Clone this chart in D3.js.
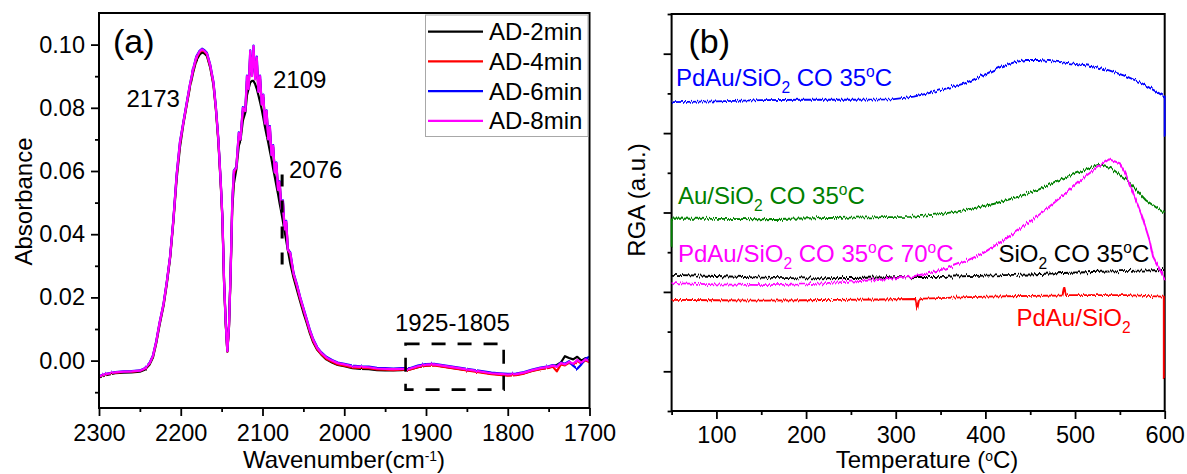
<!DOCTYPE html>
<html>
<head>
<meta charset="utf-8">
<script src="https://cdn.jsdelivr.net/npm/d3@7"></script>
<style>
  body { margin: 0; background: #fff; }
  svg { display: block; }
  text { font-family: "Liberation Sans", Arial, sans-serif; fill: #000; }
</style>
</head>
<body>
<svg id="chart" width="1187" height="474"></svg>
<script>
// ---------- (a) DRIFTS spectra of adsorbed CO ----------
const wavenumber = [
  2300,2290,2280,2270,2260,2250,2244,2238,2234,2230,
  2226,2221,2217,2213,2209,2205,2201,2197,2193,2189,
  2185,2181,2177,2174,2171,2168,2164,2160,2157,2154,
  2151,2149,2147,2145,2143,2141,2139,2137,2135,2132,
  2129,2127,2124,2121,2119,2117,2115,2113,2111,2109,
  2107,2105,2103,2101,2099,2097,2095,2093,2091,2089,
  2087,2085,2083,2081,2079,2077,2075,2073,2071,2069,
  2066,2062,2058,2054,2050,2046,2042,2038,2033,2028,
  2022,2015,2008,2000,1990,1980,1970,1960,1950,1940,
  1930,1920,1910,1900,1890,1880,1870,1860,1850,1840,
  1830,1820,1810,1800,1790,1780,1770,1760,1750,1745,
  1740,1735,1730,1725,1720,1715,1710,1705,1700
];
const ad2min = [
  -0.0053,-0.0045,-0.0040,-0.0038,-0.0037,-0.0035,-0.0029,-0.0012,0.0010,0.0055,
  0.0112,0.0174,0.0244,0.0324,0.0440,0.0575,0.0675,0.0745,0.0805,0.0862,
  0.0910,0.0950,0.0968,0.0975,0.0972,0.0964,0.0928,0.0872,0.0793,0.0693,
  0.0553,0.0443,0.0245,0.0116,0.0028,0.0105,0.0272,0.0480,0.0560,0.0605,
  0.0680,0.0695,0.0760,0.0785,0.0840,0.0860,0.0880,0.0885,0.0885,0.0875,
  0.0860,0.0840,0.0818,0.0795,0.0768,0.0740,0.0715,0.0690,0.0663,0.0638,
  0.0608,0.0582,0.0554,0.0527,0.0497,0.0470,0.0440,0.0410,0.0380,0.0350,
  0.0307,0.0262,0.0225,0.0188,0.0152,0.0120,0.0086,0.0058,0.0034,0.0019,
  0.0004,-0.0006,-0.0014,-0.0018,-0.0024,-0.0026,-0.0027,-0.0030,-0.0031,-0.0031,
  -0.0030,-0.0028,-0.0021,-0.0016,-0.0014,-0.0018,-0.0022,-0.0026,-0.0030,-0.0033,
  -0.0037,-0.0041,-0.0044,-0.0046,-0.0045,-0.0040,-0.0032,-0.0026,-0.0022,-0.0018,
  -0.0014,-0.0006,0.0014,0.0008,0.0004,0.0012,0.0000,0.0008,-0.0002
];
const ad4min = [
  -0.0051,-0.0043,-0.0038,-0.0036,-0.0035,-0.0033,-0.0026,-0.0009,0.0014,0.0058,
  0.0116,0.0178,0.0248,0.0328,0.0445,0.0585,0.0685,0.0750,0.0808,0.0866,
  0.0916,0.0957,0.0975,0.0982,0.0978,0.0969,0.0932,0.0877,0.0797,0.0697,
  0.0557,0.0447,0.0248,0.0118,0.0029,0.0108,0.0277,0.0497,0.0590,0.0615,
  0.0710,0.0702,0.0790,0.0792,0.0885,0.0862,0.0965,0.0905,0.0980,0.0895,
  0.0945,0.0855,0.0890,0.0815,0.0832,0.0755,0.0783,0.0705,0.0732,0.0655,
  0.0675,0.0600,0.0618,0.0545,0.0560,0.0485,0.0500,0.0420,0.0435,0.0355,
  0.0335,0.0272,0.0236,0.0196,0.0161,0.0126,0.0091,0.0062,0.0036,0.0020,
  0.0006,-0.0004,-0.0012,-0.0016,-0.0022,-0.0023,-0.0024,-0.0028,-0.0029,-0.0030,
  -0.0029,-0.0029,-0.0021,-0.0016,-0.0015,-0.0019,-0.0023,-0.0027,-0.0031,-0.0035,
  -0.0039,-0.0043,-0.0045,-0.0048,-0.0046,-0.0041,-0.0033,-0.0027,-0.0023,-0.0019,
  -0.0034,-0.0012,-0.0015,-0.0007,-0.0013,-0.0001,-0.0009,0.0001,-0.0005
];
const ad6min = [
  -0.0049,-0.0041,-0.0036,-0.0034,-0.0033,-0.0031,-0.0024,-0.0007,0.0016,0.0061,
  0.0119,0.0181,0.0251,0.0331,0.0448,0.0590,0.0692,0.0752,0.0812,0.0871,
  0.0921,0.0962,0.0980,0.0987,0.0982,0.0974,0.0937,0.0882,0.0802,0.0702,
  0.0562,0.0452,0.0252,0.0122,0.0031,0.0112,0.0282,0.0502,0.0602,0.0612,
  0.0722,0.0702,0.0802,0.0792,0.0902,0.0862,0.0982,0.0902,0.0997,0.0892,
  0.0962,0.0852,0.0902,0.0812,0.0842,0.0752,0.0792,0.0702,0.0742,0.0652,
  0.0682,0.0597,0.0627,0.0542,0.0567,0.0482,0.0507,0.0417,0.0442,0.0352,
  0.0342,0.0277,0.0242,0.0202,0.0167,0.0132,0.0097,0.0068,0.0042,0.0026,
  0.0012,0.0002,-0.0006,-0.0010,-0.0016,-0.0018,-0.0019,-0.0023,-0.0024,-0.0025,
  -0.0024,-0.0024,-0.0016,-0.0011,-0.0010,-0.0014,-0.0018,-0.0022,-0.0026,-0.0030,
  -0.0034,-0.0038,-0.0040,-0.0042,-0.0041,-0.0036,-0.0028,-0.0022,-0.0018,-0.0014,
  -0.0018,-0.0006,-0.0010,-0.0002,-0.0016,-0.0026,-0.0012,0.0006,0.0012
];
const ad8min = [
  -0.0050,-0.0042,-0.0037,-0.0035,-0.0034,-0.0032,-0.0025,-0.0008,0.0015,0.0060,
  0.0118,0.0180,0.0250,0.0330,0.0445,0.0588,0.0690,0.0750,0.0810,0.0870,
  0.0920,0.0960,0.0978,0.0985,0.0980,0.0972,0.0935,0.0880,0.0800,0.0700,
  0.0560,0.0450,0.0250,0.0120,0.0030,0.0110,0.0280,0.0500,0.0600,0.0610,
  0.0720,0.0700,0.0800,0.0790,0.0900,0.0860,0.0980,0.0900,0.0995,0.0890,
  0.0960,0.0850,0.0900,0.0810,0.0840,0.0750,0.0790,0.0700,0.0740,0.0650,
  0.0680,0.0595,0.0625,0.0540,0.0565,0.0480,0.0505,0.0415,0.0440,0.0350,
  0.0340,0.0275,0.0240,0.0200,0.0165,0.0130,0.0095,0.0066,0.0040,0.0024,
  0.0010,0.0000,-0.0008,-0.0012,-0.0018,-0.0020,-0.0021,-0.0025,-0.0026,-0.0027,
  -0.0026,-0.0026,-0.0018,-0.0013,-0.0012,-0.0016,-0.0020,-0.0024,-0.0028,-0.0032,
  -0.0036,-0.0040,-0.0042,-0.0044,-0.0043,-0.0038,-0.0030,-0.0024,-0.0020,-0.0016,
  -0.0020,-0.0008,-0.0012,-0.0004,-0.0010,0.0002,-0.0006,0.0004,-0.0002
];
const spectraNames = ["AD-2min", "AD-4min", "AD-6min", "AD-8min"];
const spectraColors = ["#000000", "#ff0000", "#0000ff", "#ff00ff"];
const xTicksA = [2300, 2200, 2100, 2000, 1900, 1800, 1700];
const xMinorA = [2250, 2150, 2050, 1950, 1850, 1750];
const yTicksA = [0.00, 0.02, 0.04, 0.06, 0.08, 0.10];
const yMinorA = [-0.01, 0.01, 0.03, 0.05, 0.07, 0.09];
const markerWavenumber = 2076;          // dashed marker on the 2109 band shoulder
const markerRange = [0.0288, 0.0589];
const boxWavenumbers = [1925, 1805];    // bridged CO region
const boxRange = [-0.0092, 0.0053];

// ---------- (b) RGA traces during TPD ----------
const pdauCoT = [50,100,150,200,250,296,320,336,356,377,397,417,432,445,460,478,498,518,538,558,575,591,600,600];
const pdauCoV = [7.78,7.80,7.83,7.84,7.84,7.85,7.92,8.00,8.12,8.25,8.45,8.67,8.78,8.84,8.84,8.80,8.75,8.69,8.58,8.42,8.25,8.04,7.92,6.91];
const auCoT = [50,50,100,150,195,250,316,350,377,410,437,460,478,500,526,540,558,579,600];
const auCoV = [4.14,4.85,4.84,4.83,4.85,4.87,4.89,4.96,5.06,5.22,5.40,5.58,5.78,5.98,6.20,6.12,5.82,5.31,4.98];
const pdauCo70T = [50,100,155,200,235,280,316,336,356,377,397,421,437,457,478,498,512,526,538,550,556,562,569,575,583,587,595,600];
const pdauCo70V = [3.22,3.19,3.17,3.19,3.24,3.30,3.38,3.47,3.59,3.76,3.97,4.31,4.56,4.89,5.27,5.65,5.92,6.15,6.34,6.24,6.00,5.65,5.25,4.89,4.31,3.89,3.55,3.30];
const sio2CoT = [50,100,150,195,250,300,356,400,450,478,520,560,600];
const sio2CoV = [3.43,3.40,3.36,3.34,3.35,3.37,3.38,3.41,3.44,3.47,3.50,3.53,3.55];
const pdauT = [50,100,150,200,235,280,322,324,326,330,400,450,486,488,490,558,597,599,599];
const pdauV = [2.80,2.79,2.78,2.79,2.80,2.81,2.82,2.56,2.80,2.83,2.88,2.90,2.91,3.12,2.92,2.92,2.88,2.88,0.83];
const xTicksB = [100, 200, 300, 400, 500, 600];
const xMinorB = [50, 150, 250, 350, 450, 550];
const yTicksB = [1, 3, 5, 7, 9];
const yMinorB = [0, 2, 4, 6, 8, 10];

const svg = d3.select("#chart");
const FONT = 23.5;

// noise texture for the measured traces
const defs = svg.append("defs");
function jitterFilter(id, x, width, scale) {
  const f = defs.append("filter").attr("id", id)
    .attr("filterUnits", "userSpaceOnUse")
    .attr("x", x).attr("y", 0).attr("width", width).attr("height", 474)
    .attr("color-interpolation-filters", "sRGB");
  f.append("feTurbulence").attr("type", "fractalNoise")
    .attr("baseFrequency", "0.8 0.02").attr("numOctaves", 1).attr("seed", 7).attr("result", "noise");
  f.append("feColorMatrix").attr("in", "noise").attr("type", "matrix")
    .attr("values", "0 0 0 0 0.5  0 1 0 0 0  0 0 0 0 0  0 0 0 0 1").attr("result", "nmap");
  f.append("feDisplacementMap").attr("in", "SourceGraphic").attr("in2", "nmap")
    .attr("scale", scale).attr("xChannelSelector", "R").attr("yChannelSelector", "G");
}
jitterFilter("jitterA", 95, 500, 2);
jitterFilter("jitterB", 600, 587, 6.5);

// rich text helper for sub/superscripts
function rich(g, x, y, parts, color, size, anchor, supShift, supScale) {
  const sc = supScale || 0.65;
  const up = supShift !== undefined ? supShift : size * 0.38;
  const t = g.append("text").attr("x", x).attr("y", y)
    .attr("font-size", size).attr("text-anchor", anchor || "start")
    .style("fill", color);
  let shift = 0;
  parts.forEach(p => {
    const s = typeof p === "string" ? p : p[0];
    const m = typeof p === "string" ? null : p[1];
    const target = m === "sub" ? size * 0.3 : m === "sup" ? -up : 0;
    t.append("tspan").attr("dy", target - shift)
      .attr("font-size", m ? size * sc : size).text(s);
    shift = target;
  });
  return t;
}

function styleAxis(g, tickW) {
  g.select(".domain").remove();
  g.selectAll(".tick line").attr("stroke", "#000").attr("stroke-width", tickW);
  g.selectAll(".tick text").attr("font-size", FONT)
    .attr("font-family", '"Liberation Sans", Arial, sans-serif').style("fill", "#000");
}

// ================= Panel (a) =================
const xa = d3.scaleLinear().domain([2300, 1700]).range([99, 589.5]);
const ya = d3.scaleLinear().domain([-0.015, 0.11]).range([408, 13]);
const ga = svg.append("g");

const specLine = d3.line()
  .x((d, i) => xa(wavenumber[i]))
  .y(d => ya(d));

const spectra = ga.append("g").attr("filter", "url(#jitterA)");
[ad2min, ad4min, ad6min, ad8min].forEach((vals, k) => {
  spectra.append("path").datum(vals)
    .attr("d", specLine)
    .attr("fill", "none")
    .attr("stroke", spectraColors[k])
    .attr("stroke-width", 2.2)
    .attr("stroke-linejoin", "round");
});

// annotation marks
ga.append("line")
  .attr("x1", xa(markerWavenumber)).attr("x2", xa(markerWavenumber))
  .attr("y1", ya(markerRange[1])).attr("y2", ya(markerRange[0]))
  .attr("stroke", "#000").attr("stroke-width", 3).attr("stroke-dasharray", "12,14");
ga.append("rect")
  .attr("x", xa(boxWavenumbers[0])).attr("y", ya(boxRange[1]))
  .attr("width", xa(boxWavenumbers[1]) - xa(boxWavenumbers[0]))
  .attr("height", ya(boxRange[0]) - ya(boxRange[1]))
  .attr("fill", "none").attr("stroke", "#000").attr("stroke-width", 2.6)
  .attr("stroke-dasharray", "14,12");

// frame
ga.append("rect").attr("x", 99).attr("y", 13).attr("width", 589.5 - 99).attr("height", 408 - 13)
  .attr("fill", "none").attr("stroke", "#000").attr("stroke-width", 2);

// axes
const axA = ga.append("g").attr("transform", "translate(0,408)")
  .call(d3.axisBottom(xa).tickValues(xTicksA).tickSize(8).tickPadding(8).tickFormat(d3.format("d")));
styleAxis(axA, 1.8);
const axAm = ga.append("g").attr("transform", "translate(0,408)")
  .call(d3.axisBottom(xa).tickValues(xMinorA).tickSize(4).tickFormat(""));
styleAxis(axAm, 1.8);
const ayA = ga.append("g").attr("transform", "translate(99,0)")
  .call(d3.axisLeft(ya).tickValues(yTicksA).tickSize(8).tickPadding(6).tickFormat(d3.format(".2f")));
styleAxis(ayA, 1.8);
const ayAm = ga.append("g").attr("transform", "translate(99,0)")
  .call(d3.axisLeft(ya).tickValues(yMinorA).tickSize(4).tickFormat(""));
styleAxis(ayAm, 1.8);

// legend
const leg = ga.append("g");
leg.append("rect").attr("x", 425.5).attr("y", 15).attr("width", 162.5).attr("height", 121.5)
  .attr("fill", "#fff").attr("stroke", "#a8a8a8").attr("stroke-width", 1);
spectraNames.forEach((name, i) => {
  const cy = 31.7 + i * 29.7;
  leg.append("line").attr("x1", 428).attr("x2", 483).attr("y1", cy).attr("y2", cy)
    .attr("stroke", spectraColors[i]).attr("stroke-width", 2.2);
  leg.append("text").attr("x", 489).attr("y", cy + 8.6).attr("font-size", 24).text(name);
});

// labels
ga.append("text").attr("x", 113).attr("y", 53).attr("font-size", 34).text("(a)");
ga.append("text").attr("x", 126.5).attr("y", 106.5).attr("font-size", 24).text("2173");
ga.append("text").attr("x", 273).attr("y", 87.5).attr("font-size", 24).text("2109");
ga.append("text").attr("x", 289).attr("y", 177.5).attr("font-size", 24).text("2076");
ga.append("text").attr("x", 395).attr("y", 331).attr("font-size", 24).text("1925-1805");
ga.append("text").attr("transform", "translate(31.5,201.5) rotate(-90)")
  .attr("text-anchor", "middle").attr("font-size", 24).text("Absorbance");
rich(ga, 344, 468, ["Wavenumber(cm", ["-1", "sup"], ")"], "#000", 24, "middle", 7, 0.58);

// ================= Panel (b) =================
const xb = d3.scaleLinear().domain([50, 600]).range([671.6, 1164.7]);
const yb = d3.scaleLinear().domain([0, 10]).range([411, 14]);
const gb = svg.append("g");

gb.append("rect").attr("x", 671.6).attr("y", 14).attr("width", 1164.7 - 671.6).attr("height", 411 - 14)
  .attr("fill", "none").attr("stroke", "#000").attr("stroke-width", 2);

const rgaSeries = [
  { t: pdauCoT, v: pdauCoV, c: "#0000ff" },
  { t: auCoT, v: auCoV, c: "#008000" },
  { t: sio2CoT, v: sio2CoV, c: "#000000" },
  { t: pdauT, v: pdauV, c: "#ff0000" },
  { t: pdauCo70T, v: pdauCo70V, c: "#ff00ff" }
];
const rgaLine = d3.line().x(d => xb(d[0])).y(d => yb(d[1]));
const traces = gb.append("g").attr("filter", "url(#jitterB)");
rgaSeries.forEach(s => {
  const pts = s.t.map((t, i) => [t, s.v[i]]);
  traces.append("path").datum(pts)
    .attr("d", rgaLine)
    .attr("fill", "none").attr("stroke", s.c).attr("stroke-width", 1.9);
});

const axB = gb.append("g").attr("transform", "translate(0,411)")
  .call(d3.axisBottom(xb).tickValues(xTicksB).tickSize(8).tickPadding(7).tickFormat(d3.format("d")));
styleAxis(axB, 1.8);
const axBm = gb.append("g").attr("transform", "translate(0,411)")
  .call(d3.axisBottom(xb).tickValues(xMinorB).tickSize(4).tickFormat(""));
styleAxis(axBm, 1.8);
const ayB = gb.append("g").attr("transform", "translate(671.6,0)")
  .call(d3.axisLeft(yb).tickValues(yTicksB).tickSize(8).tickFormat(""));
styleAxis(ayB, 1.8);
const ayBm = gb.append("g").attr("transform", "translate(671.6,0)")
  .call(d3.axisLeft(yb).tickValues(yMinorB).tickSize(4).tickFormat(""));
styleAxis(ayBm, 1.8);

gb.append("text").attr("x", 688.5).attr("y", 53).attr("font-size", 34).text("(b)");
rich(gb, 676, 86, ["PdAu/SiO", ["2", "sub"], " CO 35", ["o", "sup"], "C"], "#0000ff", 24);
rich(gb, 678, 204, ["Au/SiO", ["2", "sub"], " CO 35", ["o", "sup"], "C"], "#008000", 24);
rich(gb, 678, 262, ["PdAu/SiO", ["2", "sub"], " CO 35", ["o", "sup"], "C 70", ["o", "sup"], "C"], "#ff00ff", 24);
rich(gb, 998.5, 262, ["SiO", ["2", "sub"], " CO 35", ["o", "sup"], "C"], "#000000", 24);
rich(gb, 1016.5, 326, ["PdAu/SiO", ["2", "sub"]], "#ff0000", 24);
gb.append("text").attr("transform", "translate(645,200) rotate(-90)")
  .attr("text-anchor", "middle").attr("font-size", 24).text("RGA (a.u.)");
rich(gb, 927, 468, ["Temperature (", ["o", "sup"], "C)"], "#000", 24, "middle", 7, 0.58);
</script>
</body>
</html>
